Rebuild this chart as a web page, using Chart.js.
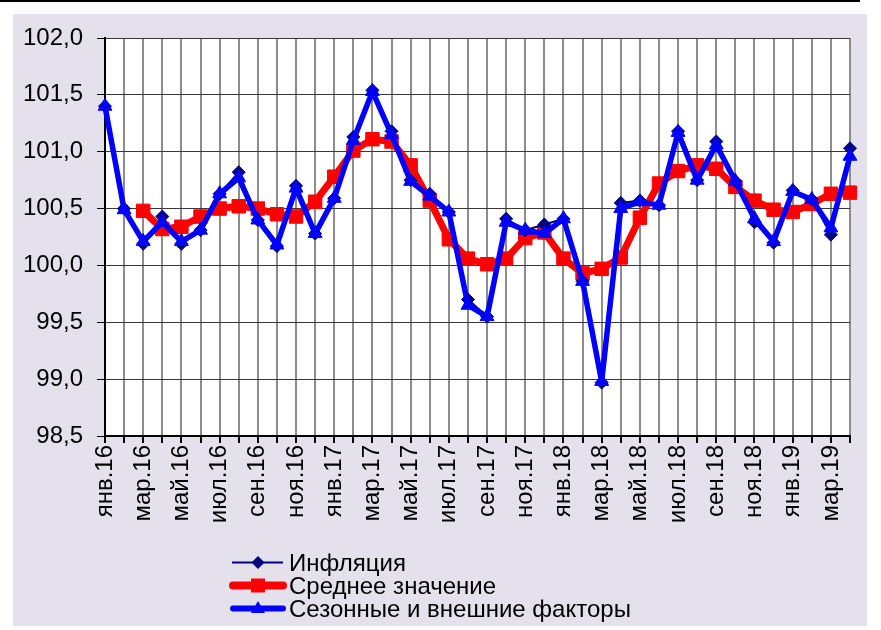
<!DOCTYPE html>
<html>
<head>
<meta charset="utf-8">
<script src="https://cdn.jsdelivr.net/npm/chart.js@4/dist/chart.umd.min.js"></script>
<style>
  html, body { margin: 0; padding: 0; background: #ffffff; }
  #wrap { position: relative; width: 881px; height: 630px; overflow: hidden; background: #ffffff; font-family: 'Liberation Sans', Arial, sans-serif; }
  #panel { position: absolute; left: 13px; top: 14px; width: 854px; height: 612px; background: #E4E0EC; }
  #topline { position: absolute; left: 0; top: 0; width: 860px; height: 2px; background: #000; }
  #chart { position: absolute; left: 0; top: 0; }
  #legend { position: absolute; left: 229px; top: 551px; }
  .item { display: flex; align-items: center; height: 23px; font-size: 24px; color: #000; white-space: nowrap; }
  .item svg { width: 60px; height: 23px; flex: none; }
</style>
</head>
<body>
<div id="wrap">
  <div id="panel"></div>
  <div id="topline"></div>
  <canvas id="chart" width="881" height="630"></canvas>
  <div id="legend"></div>
</div>
<script>
const months = ['янв.16','фев.16','мар.16','апр.16','май.16','июн.16','июл.16','авг.16','сен.16','окт.16','ноя.16','дек.16',
                'янв.17','фев.17','мар.17','апр.17','май.17','июн.17','июл.17','авг.17','сен.17','окт.17','ноя.17','дек.17',
                'янв.18','фев.18','мар.18','апр.18','май.18','июн.18','июл.18','авг.18','сен.18','окт.18','ноя.18','дек.18',
                'янв.19','фев.19','мар.19','апр.19'];

const inflation = [101.40,100.50,100.19,100.43,100.19,100.31,100.63,100.82,100.40,100.17,100.70,100.28,
                   100.59,101.13,101.54,101.18,100.75,100.63,100.47,99.70,99.55,100.41,100.31,100.36,
                   100.41,99.86,98.97,100.55,100.57,100.53,101.18,100.75,101.09,100.74,100.38,100.20,
                   100.66,100.58,100.27,101.03];

const meanValue = [null,null,100.48,100.32,100.34,100.43,100.50,100.52,100.50,100.45,100.43,100.56,
                   100.78,101.01,101.11,101.09,100.88,100.57,100.23,100.06,100.01,100.06,100.24,100.29,
                   100.06,99.93,99.97,100.07,100.42,100.72,100.83,100.88,100.85,100.69,100.57,100.49,
                   100.47,100.54,100.63,100.64];

const seasonal = [101.40,100.49,100.21,100.38,100.21,100.31,100.63,100.77,100.40,100.18,100.68,100.28,
                  100.59,101.10,101.53,101.15,100.74,100.61,100.47,99.65,99.55,100.38,100.31,100.28,
                  100.41,99.86,98.98,100.50,100.56,100.53,101.17,100.75,101.06,100.74,100.41,100.21,
                  100.65,100.58,100.33,100.96];

const seriesNames = ['Инфляция','Среднее значение','Сезонные и внешние факторы'];
const yMin = 98.5, yMax = 102.0, yStep = 0.5;

const FONT = "'Liberation Sans', Arial, sans-serif";

const plotBg = {
  id: 'plotBg',
  beforeDraw(chart) {
    const {ctx, chartArea: a} = chart;
    ctx.save();
    ctx.fillStyle = '#ffffff';
    ctx.fillRect(a.left, a.top, a.right - a.left, a.bottom - a.top);
    ctx.restore();
  }
};

new Chart(document.getElementById('chart'), {
  type: 'line',
  data: {
    labels: months,
    datasets: [
      { label: seriesNames[0], data: inflation, borderColor: '#000080', backgroundColor: '#000080',
        borderWidth: 2, pointStyle: 'rectRot', pointRadius: 6.5, pointBorderWidth: 1, order: 2 },
      { label: seriesNames[1], data: meanValue, borderColor: '#FF0000', backgroundColor: '#FF0000',
        borderWidth: 7, pointStyle: 'rect', pointRadius: 9.5, pointBorderWidth: 1, order: 3 },
      { label: seriesNames[2], data: seasonal, borderColor: '#0000FF', backgroundColor: '#0000FF',
        borderWidth: 5.5, pointStyle: 'triangle', pointRadius: 8, pointBorderWidth: 1, order: 1 }
    ]
  },
  options: {
    responsive: false,
    animation: false,
    layout: { padding: { left: 0, top: 38, right: 31, bottom: 0 } },
    elements: { line: { tension: 0, borderJoinStyle: 'round', borderCapStyle: 'round' } },
    plugins: { legend: { display: false }, tooltip: { enabled: false } },
    scales: {
      x: {
        type: 'category',
        offset: false,
        grid: { color: '#8c8c8c', lineWidth: 2, tickColor: '#000', tickLength: 7, drawOnChartArea: true },
        border: { color: '#000', width: 2 },
        ticks: {
          autoSkip: false, maxRotation: 90, minRotation: 90, padding: 2,
          color: '#000', font: { family: FONT, size: 24 },
          callback: (v, i) => (i % 2 === 0 ? months[i] : '')
        },
        afterFit: (s) => { s.height = 194; }
      },
      y: {
        min: yMin, max: yMax,
        grid: { color: '#383838', lineWidth: 1, tickColor: '#000', tickLength: 8 },
        border: { color: '#000', width: 2 },
        ticks: {
          stepSize: yStep, padding: 14, color: '#000', font: { family: FONT, size: 24 },
          callback: (v) => Number(v).toFixed(1).replace('.', ',')
        },
        afterFit: (s) => { s.width = 105; }
      }
    }
  },
  plugins: [plotBg]
});

// HTML legend
const legendSamples = [
  '<svg viewBox="0 0 60 23"><line x1="3" y1="11.5" x2="54" y2="11.5" stroke="#000080" stroke-width="2"/><polygon points="29,5 35.5,11.5 29,18 22.5,11.5" fill="#000080"/></svg>',
  '<svg viewBox="0 0 60 23"><line x1="4" y1="11.5" x2="54" y2="11.5" stroke="#FF0000" stroke-width="8" stroke-linecap="round"/><rect x="22" y="4.5" width="14" height="14" fill="#FF0000"/></svg>',
  '<svg viewBox="0 0 60 23"><line x1="4" y1="11.5" x2="54" y2="11.5" stroke="#0000FF" stroke-width="6" stroke-linecap="round"/><polygon points="29,4 36,16 22,16" fill="#0000FF"/></svg>'
];
document.getElementById('legend').innerHTML = seriesNames.map((n, i) =>
  '<div class="item">' + legendSamples[i] + '<span>' + n + '</span></div>').join('');
</script>
</body>
</html>
